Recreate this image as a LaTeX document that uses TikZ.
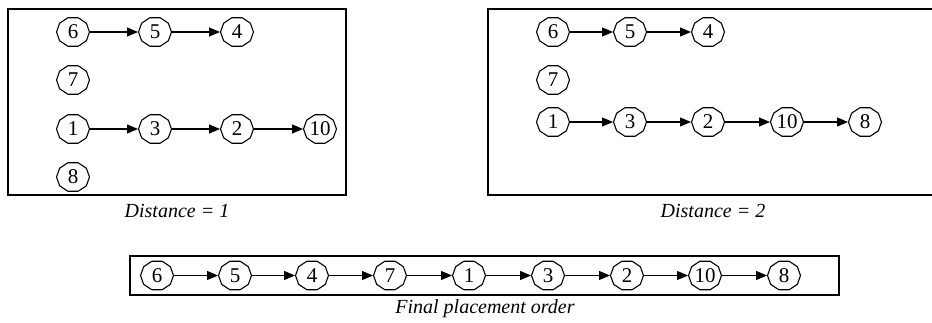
\documentclass[tikz,border=0pt]{standalone}
\usepackage{fontspec}
\setmainfont{Liberation Serif}
\usetikzlibrary{arrows.meta,shapes.geometric}
\tikzset{
  dnode/.style={ellipse, draw=none, minimum width=33pt, minimum height=30pt, inner sep=0pt, font=\fontsize{21}{21}\selectfont},
  frame/.style={line width=2.9pt},
  conn/.style={line width=1.2pt, -{Triangle[length=11pt,width=9pt]}, shorten >=0.3pt},
  captxt/.style={font=\fontsize{20}{20}\selectfont\itshape, anchor=base, inner sep=0pt},
  deca/.style={line width=1.1pt}
}
\newcommand{\decag}[1]{\draw[deca,shift={(#1.center)}] (0:16.5pt and 15pt) -- (36:16.5pt and 15pt) -- (72:16.5pt and 15pt) -- (108:16.5pt and 15pt) -- (144:16.5pt and 15pt) -- (180:16.5pt and 15pt) -- (216:16.5pt and 15pt) -- (252:16.5pt and 15pt) -- (288:16.5pt and 15pt) -- (324:16.5pt and 15pt) -- cycle;}
\begin{document}
\begin{tikzpicture}[x=1pt,y=-1pt]
\useasboundingbox (0,0) rectangle (932,323);
% frames
\draw[frame] (8,9) rectangle (346,195);
\draw[frame] (940,9) -| (488,195) -- (940,195);
\draw[frame] (130,256) rectangle (839,295);
% box 1
\node[dnode] (a6) at (73,32) {6};
\node[dnode] (a5) at (155,32) {5};
\node[dnode] (a4) at (237,32) {4};
\node[dnode] (a7) at (73,80) {7};
\node[dnode] (a1) at (73,129) {1};
\node[dnode] (a3) at (155,129) {3};
\node[dnode] (a2) at (237,129) {2};
\node[dnode] (a10) at (320,129) {10};
\node[dnode] (a8) at (73,177) {8};
% box 2
\node[dnode] (b6) at (553,32) {6};
\node[dnode] (b5) at (630,32) {5};
\node[dnode] (b4) at (708,32) {4};
\node[dnode] (b7) at (553,80) {7};
\node[dnode] (b1) at (553,122) {1};
\node[dnode] (b3) at (630,122) {3};
\node[dnode] (b2) at (708,122) {2};
\node[dnode] (b10) at (787,122) {10};
\node[dnode] (b8) at (865,122) {8};
% final
\node[dnode] (c6) at (157,275.5) {6};
\node[dnode] (c5) at (235,275.5) {5};
\node[dnode] (c4) at (312,275.5) {4};
\node[dnode] (c7) at (390,275.5) {7};
\node[dnode] (c1) at (469,275.5) {1};
\node[dnode] (c3) at (548,275.5) {3};
\node[dnode] (c2) at (627,275.5) {2};
\node[dnode] (c10) at (705,275.5) {10};
\node[dnode] (c8) at (784,275.5) {8};
\foreach \n in {a6,a5,a4,a7,a1,a3,a2,a10,a8,b6,b5,b4,b7,b1,b3,b2,b10,b8,c6,c5,c4,c7,c1,c3,c2,c10,c8} {\decag{\n}}
% connectors
\draw[conn] (a6) -- (a5);
\draw[conn] (a5) -- (a4);
\draw[conn] (a1) -- (a3);
\draw[conn] (a3) -- (a2);
\draw[conn] (a2) -- (a10);
\draw[conn] (b6) -- (b5);
\draw[conn] (b5) -- (b4);
\draw[conn] (b1) -- (b3);
\draw[conn] (b3) -- (b2);
\draw[conn] (b2) -- (b10);
\draw[conn] (b10) -- (b8);
\draw[conn] (c6) -- (c5);
\draw[conn] (c5) -- (c4);
\draw[conn] (c4) -- (c7);
\draw[conn] (c7) -- (c1);
\draw[conn] (c1) -- (c3);
\draw[conn] (c3) -- (c2);
\draw[conn] (c2) -- (c10);
\draw[conn] (c10) -- (c8);
% captions
\node[captxt] (t1) at (177,218) {Distance = 1};
\node[captxt] (t2) at (713,218) {Distance = 2};
\node[captxt] (t3) at (485,313) {Final placement order};
\end{tikzpicture}
\end{document}
